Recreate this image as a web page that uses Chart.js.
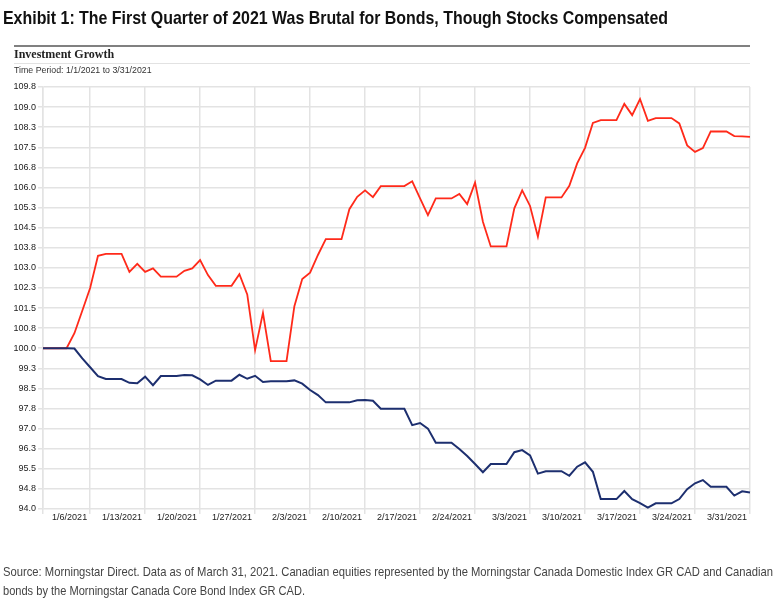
<!DOCTYPE html>
<html>
<head>
<meta charset="utf-8">
<script src="https://cdn.jsdelivr.net/npm/chart.js@4.4.1/dist/chart.umd.min.js"></script>
<style>
  html, body { margin: 0; padding: 0; background: #fff; }
  body { width: 784px; height: 613px; position: relative; overflow: hidden; }
  .fit { position: absolute; white-space: nowrap; transform-origin: 0 0; }
  #title { left: 3px; top: 7px; font-family: "Liberation Sans", Arial, sans-serif; font-weight: bold; font-size: 19px; color: #111; }
  #rule1 { position: absolute; left: 14px; top: 45px; width: 736px; height: 2px; background: #808080; }
  #sub1 { position: absolute; left: 14px; top: 47px; font-family: "Liberation Serif", serif; font-weight: bold; font-size: 12px; color: #222; }
  #rule2 { position: absolute; left: 14px; top: 63px; width: 736px; height: 1px; background: #e2e2e2; }
  #sub2 { position: absolute; left: 14px; top: 65px; font-family: "Liberation Sans", sans-serif; font-size: 8.8px; color: #333; }
  .src { left: 3px; font-family: "Liberation Sans", Arial, sans-serif; font-size: 13px; color: #444; }
  #src1 { top: 564px; }
  #src2 { top: 583px; }
  #wrap { position: absolute; left: 0; top: 0; width: 784px; height: 613px; }
</style>
</head>
<body>
<div id="wrap"><canvas id="c" width="784" height="613"></canvas></div>
<div id="title" class="fit" data-w="665">Exhibit 1: The First Quarter of 2021 Was Brutal for Bonds, Though Stocks Compensated</div>
<div id="rule1"></div>
<div id="sub1">Investment Growth</div>
<div id="rule2"></div>
<div id="sub2">Time Period: 1/1/2021 to 3/31/2021</div>
<div id="src1" class="fit src" data-w="770">Source: Morningstar Direct. Data as of March 31, 2021. Canadian equities represented by the Morningstar Canada Domestic Index GR CAD and Canadian</div>
<div id="src2" class="fit src" data-w="302">bonds by the Morningstar Canada Core Bond Index GR CAD.</div>
<script>
// Daily dates
const dates = [
 '12/31/2020','1/1/2021','1/2/2021','1/3/2021','1/4/2021','1/5/2021','1/6/2021','1/7/2021','1/8/2021','1/9/2021',
 '1/10/2021','1/11/2021','1/12/2021','1/13/2021','1/14/2021','1/15/2021','1/16/2021','1/17/2021','1/18/2021','1/19/2021',
 '1/20/2021','1/21/2021','1/22/2021','1/23/2021','1/24/2021','1/25/2021','1/26/2021','1/27/2021','1/28/2021','1/29/2021',
 '1/30/2021','1/31/2021','2/1/2021','2/2/2021','2/3/2021','2/4/2021','2/5/2021','2/6/2021','2/7/2021','2/8/2021',
 '2/9/2021','2/10/2021','2/11/2021','2/12/2021','2/13/2021','2/14/2021','2/15/2021','2/16/2021','2/17/2021','2/18/2021',
 '2/19/2021','2/20/2021','2/21/2021','2/22/2021','2/23/2021','2/24/2021','2/25/2021','2/26/2021','2/27/2021','2/28/2021',
 '3/1/2021','3/2/2021','3/3/2021','3/4/2021','3/5/2021','3/6/2021','3/7/2021','3/8/2021','3/9/2021','3/10/2021',
 '3/11/2021','3/12/2021','3/13/2021','3/14/2021','3/15/2021','3/16/2021','3/17/2021','3/18/2021','3/19/2021','3/20/2021',
 '3/21/2021','3/22/2021','3/23/2021','3/24/2021','3/25/2021','3/26/2021','3/27/2021','3/28/2021','3/29/2021','3/30/2021',
 '3/31/2021'
];

// Morningstar Canada Domestic Index GR CAD (equities)
const equities = [
 100.00,100.00,100.00,100.00,100.56,101.40,102.25,103.45,103.52,103.52,
 103.52,102.85,103.15,102.85,102.98,102.67,102.67,102.67,102.89,102.98,
 103.29,102.73,102.33,102.33,102.33,102.76,102.01,99.93,101.32,99.52,
 99.52,99.52,101.57,102.58,102.82,103.48,104.07,104.07,104.07,105.19,
 105.65,105.89,105.64,106.05,106.05,106.05,106.05,106.23,105.59,104.97,
 105.59,105.59,105.59,105.76,105.38,106.18,104.72,103.80,103.80,103.80,
 105.22,105.89,105.31,104.16,105.63,105.63,105.63,106.06,106.90,107.48,
 108.41,108.51,108.51,108.51,109.12,108.70,109.30,108.49,108.59,108.59,
 108.59,108.39,107.57,107.33,107.47,108.09,108.09,108.09,107.92,107.91,
 107.89
];

// Morningstar Canada Core Bond Index GR CAD (bonds)
const bonds = [
 100.00,100.00,100.00,100.00,99.99,99.62,99.29,98.96,98.85,98.85,
 98.85,98.71,98.69,98.94,98.62,98.96,98.96,98.96,99.00,98.99,
 98.84,98.63,98.79,98.79,98.79,99.01,98.86,98.97,98.74,98.77,
 98.77,98.77,98.80,98.68,98.44,98.25,97.98,97.98,97.98,97.98,
 98.06,98.07,98.04,97.74,97.74,97.74,97.74,97.13,97.21,97.00,
 96.47,96.47,96.47,96.24,95.98,95.68,95.37,95.68,95.68,95.68,
 96.12,96.20,96.00,95.32,95.41,95.41,95.41,95.24,95.58,95.74,
 95.39,94.37,94.37,94.37,94.67,94.37,94.22,94.05,94.21,94.21,
 94.21,94.37,94.74,94.96,95.08,94.83,94.83,94.83,94.50,94.66,
 94.62
];

const xTickLabels = ['1/6/2021','1/13/2021','1/20/2021','1/27/2021','2/3/2021','2/10/2021','2/17/2021',
                     '2/24/2021','3/3/2021','3/10/2021','3/17/2021','3/24/2021','3/31/2021'];
const yTickValues = [94.0,94.75,95.5,96.25,97.0,97.75,98.5,99.25,100.0,100.75,101.5,102.25,103.0,
                     103.75,104.5,105.25,106.0,106.75,107.5,108.25,109.0,109.75];
const yTickLabels = ['94.0','94.8','95.5','96.3','97.0','97.8','98.5','99.3','100.0','100.8','101.5',
                     '102.3','103.0','103.8','104.5','105.3','106.0','106.8','107.5','108.3','109.0','109.8'];

// condense text blocks horizontally to the reference widths
document.querySelectorAll('.fit').forEach(el => {
  const target = parseFloat(el.dataset.w);
  const w = el.getBoundingClientRect().width;
  if (w > 0) el.style.transform = 'scaleX(' + (target / w) + ')';
});

const GRID = '#e3e3e3';
const tickFont = { family: '"Liberation Sans", Arial, sans-serif', size: 9 };

new Chart(document.getElementById('c'), {
  type: 'line',
  data: {
    labels: dates,
    datasets: [
      { label: 'Bonds', data: bonds, borderColor: '#1d2f6f', borderWidth: 2, pointRadius: 0, tension: 0, fill: false },
      { label: 'Equities', data: equities, borderColor: '#ff2a1a', borderWidth: 1.8, pointRadius: 0, tension: 0, fill: false }
    ]
  },
  options: {
    responsive: false,
    animation: false,
    events: [],
    layout: { padding: { left: 0, right: 34, top: 87, bottom: 0 } },
    plugins: { legend: { display: false }, title: { display: false }, tooltip: { enabled: false } },
    scales: {
      x: {
        type: 'category',
        offset: false,
        afterFit: s => { s.height = 104; },
        border: { display: false },
        grid: {
          color: ctx => (ctx.index === 0 || xTickLabels.includes(dates[ctx.index])) ? GRID : 'rgba(0,0,0,0)',
          lineWidth: 1.5,
          tickLength: 5,
          drawTicks: true
        },
        ticks: {
          autoSkip: false,
          maxRotation: 0,
          minRotation: 0,
          align: 'end',
          labelOffset: -3,
          padding: -2,
          color: '#222',
          font: tickFont,
          callback: (v, i) => xTickLabels.includes(dates[i]) ? dates[i] : ''
        }
      },
      y: {
        type: 'linear',
        min: 94.0,
        max: 109.75,
        afterFit: s => { s.width = 43; },
        afterBuildTicks: s => { s.ticks = yTickValues.map(v => ({ value: v })); },
        border: { display: true, color: GRID, width: 1.5 },
        grid: { color: GRID, lineWidth: 1.5, tickLength: 5, drawTicks: true },
        ticks: {
          padding: 2,
          color: '#222',
          font: tickFont,
          callback: (v) => { const k = yTickValues.indexOf(v); return k >= 0 ? yTickLabels[k] : ''; }
        }
      }
    }
  }
});
</script>
</body>
</html>
